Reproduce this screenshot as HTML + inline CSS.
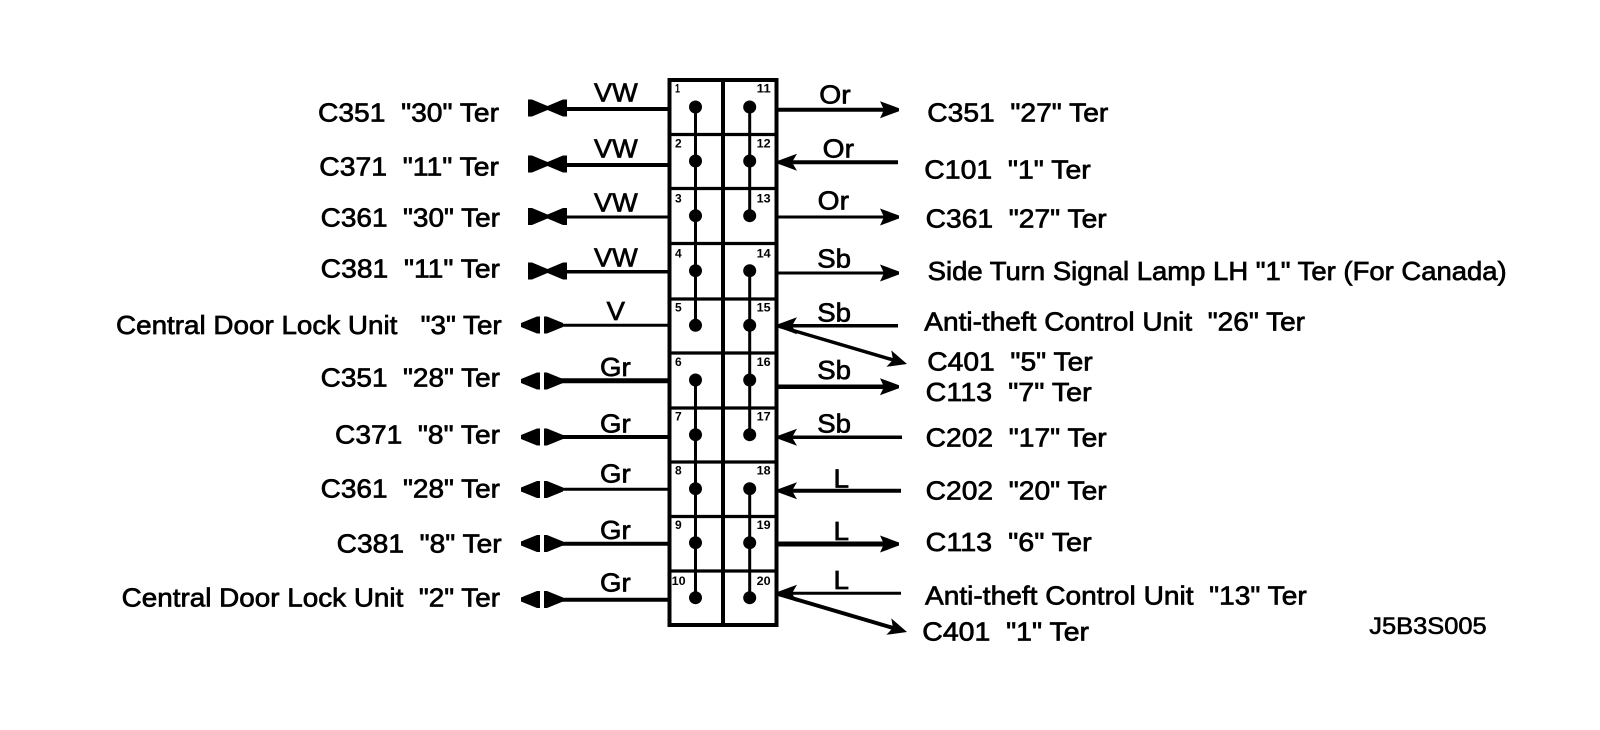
<!DOCTYPE html>
<html><head><meta charset="utf-8"><title>J5B3S005</title>
<style>
html,body{margin:0;padding:0;background:#fff;width:1600px;height:730px;overflow:hidden}
svg{display:block}
text{font-family:"Liberation Sans",Arial,sans-serif;fill:#000}
.t{font-size:26px;stroke:#000;stroke-width:.7px}
.n{font-size:12px;font-weight:bold}
.w{stroke:#000;fill:none}
</style></head><body>
<svg width="1600" height="730" viewBox="0 0 1600 730" xmlns="http://www.w3.org/2000/svg">
<defs>
<g id="da"><polygon points="528,-8.5 532,-8.5 547.5,-2 547.5,2 532,8.5 528,8.5"/><polygon points="547.5,-2 563,-8.5 567,-8.5 567,8.5 563,8.5 547.5,2"/></g>
<g id="db"><polygon points="521,-2 537,-8.5 540,-8.5 540,8.5 537,8.5 521,2"/><polygon points="544,-8.5 547,-8.5 563,-2 563,2 547,8.5 544,8.5"/></g>
<polygon id="o" points="899,-1.5 899,1.5 880,8.5 884,0 880,-8.5"/>
<polygon id="i" points="778,-1.5 778,1.5 797,8.5 792,0 797,-8.5"/>
<polygon id="dg" points="907,364 891.3,350.4 893,359.8 886.4,366.8"/>
</defs>

<!-- connector box -->
<g class="w">
<rect x="669.5" y="80" width="107" height="545" stroke-width="4"/>
<path d="M723 80V625" stroke-width="4"/>
<path d="M669 134.5H777M669 188.5H777M669 243.5H777M669 299H777M669 353H777M669 408H777M669 462H777M669 516.5H777M669 571H777" stroke-width="3.2"/>
<path d="M695.5 107V325M695.5 380V598M749.7 107V216M749.7 271V435M749.7 489V598" stroke-width="3"/>
</g>
<g>
<circle cx="695.5" cy="107" r="6.5"/><circle cx="695.5" cy="161" r="6.5"/><circle cx="695.5" cy="215.7" r="6.5"/><circle cx="695.5" cy="270.7" r="6.5"/><circle cx="695.5" cy="325.3" r="6.5"/><circle cx="695.5" cy="380" r="6.5"/><circle cx="695.5" cy="434.7" r="6.5"/><circle cx="695.5" cy="488.7" r="6.5"/><circle cx="695.5" cy="542.7" r="6.5"/><circle cx="695.5" cy="597.7" r="6.5"/>
<circle cx="749.7" cy="107" r="6.5"/><circle cx="749.7" cy="161" r="6.5"/><circle cx="749.7" cy="215.7" r="6.5"/><circle cx="749.7" cy="270.7" r="6.5"/><circle cx="749.7" cy="325.3" r="6.5"/><circle cx="749.7" cy="380" r="6.5"/><circle cx="749.7" cy="434.7" r="6.5"/><circle cx="749.7" cy="488.7" r="6.5"/><circle cx="749.7" cy="542.7" r="6.5"/><circle cx="749.7" cy="597.7" r="6.5"/>
</g>

<!-- left wires -->
<g class="w">
<path d="M560 109H668" stroke-width="4"/>
<path d="M560 165H668" stroke-width="4"/>
<path d="M560 217H668" stroke-width="3"/>
<path d="M560 271.7H668" stroke-width="3.5"/>
<path d="M555 325.3H668" stroke-width="3"/>
<path d="M555 380.7H668" stroke-width="5"/>
<path d="M555 437H668" stroke-width="4"/>
<path d="M555 489.3H668" stroke-width="3"/>
<path d="M555 543.7H668" stroke-width="4"/>
<path d="M555 599.7H668" stroke-width="4"/>
</g>
<use href="#da" transform="translate(0,108)"/>
<use href="#da" transform="translate(0,164)"/>
<use href="#da" transform="translate(0,216.5)"/>
<use href="#da" transform="translate(0,271)"/>
<use href="#db" transform="translate(0,325)"/>
<use href="#db" transform="translate(0,381)"/>
<use href="#db" transform="translate(0,437)"/>
<use href="#db" transform="translate(0,489.5)"/>
<use href="#db" transform="translate(0,543.5)"/>
<use href="#db" transform="translate(0,599.5)"/>

<!-- right wires -->
<g class="w">
<path d="M778 109.7H885" stroke-width="4"/>
<path d="M785 162.3H898" stroke-width="4"/>
<path d="M778 217H885" stroke-width="3"/>
<path d="M778 273H885" stroke-width="3"/>
<path d="M785 325.7H898" stroke-width="3.5"/>
<path d="M778 386.7H885" stroke-width="4.5"/>
<path d="M785 437.3H902" stroke-width="3.5"/>
<path d="M785 490.7H901" stroke-width="4"/>
<path d="M778 544H885" stroke-width="5"/>
<path d="M785 593.3H901" stroke-width="3"/>
<path d="M778 326L895 360.5" stroke-width="3.5"/>
<path d="M778 594L895 628.5" stroke-width="4"/>
</g>
<use href="#o" transform="translate(0,109.7)"/>
<use href="#i" transform="translate(0,162.3)"/>
<use href="#o" transform="translate(0,217)"/>
<use href="#o" transform="translate(0,273)"/>
<use href="#i" transform="translate(0,325.7)"/>
<use href="#o" transform="translate(0,386.7)"/>
<use href="#i" transform="translate(0,437.3)"/>
<use href="#i" transform="translate(0,490.7)"/>
<use href="#o" transform="translate(0,544)"/>
<use href="#i" transform="translate(0,593.3)"/>
<use href="#dg"/>
<use href="#dg" transform="translate(0,268)"/>

<!-- pin numbers -->
<g class="n">
<text x="675" y="92.7" textLength="5" lengthAdjust="spacingAndGlyphs">1</text>
<text x="675" y="147.3">2</text>
<text x="675" y="202.7">3</text>
<text x="675" y="257.3">4</text>
<text x="675" y="311.7">5</text>
<text x="675" y="366">6</text>
<text x="675" y="420.7">7</text>
<text x="675" y="474.3">8</text>
<text x="675" y="529">9</text>
<text x="671.7" y="585" textLength="14" lengthAdjust="spacingAndGlyphs">10</text>
<text x="756.7" y="92.7" textLength="14" lengthAdjust="spacingAndGlyphs">11</text>
<text x="756.7" y="147.3" textLength="14" lengthAdjust="spacingAndGlyphs">12</text>
<text x="756.7" y="202.7" textLength="14" lengthAdjust="spacingAndGlyphs">13</text>
<text x="756.7" y="257.3" textLength="14" lengthAdjust="spacingAndGlyphs">14</text>
<text x="756.7" y="311.7" textLength="14" lengthAdjust="spacingAndGlyphs">15</text>
<text x="756.7" y="366" textLength="14" lengthAdjust="spacingAndGlyphs">16</text>
<text x="756.7" y="420.7" textLength="14" lengthAdjust="spacingAndGlyphs">17</text>
<text x="756.7" y="474.3" textLength="14" lengthAdjust="spacingAndGlyphs">18</text>
<text x="756.7" y="529" textLength="14" lengthAdjust="spacingAndGlyphs">19</text>
<text x="756.7" y="585" textLength="14" lengthAdjust="spacingAndGlyphs">20</text>
</g>

<!-- wire colour labels -->
<g class="t">
<text x="594" y="101.7" textLength="43.7" lengthAdjust="spacingAndGlyphs">VW</text>
<text x="594" y="157.3" textLength="43.7" lengthAdjust="spacingAndGlyphs">VW</text>
<text x="594" y="211.7" textLength="43.7" lengthAdjust="spacingAndGlyphs">VW</text>
<text x="594" y="266.7" textLength="43.7" lengthAdjust="spacingAndGlyphs">VW</text>
<text x="606.7" y="320" textLength="18.3" lengthAdjust="spacingAndGlyphs">V</text>
<text x="600" y="376" textLength="30.7" lengthAdjust="spacingAndGlyphs">Gr</text>
<text x="600" y="432.3" textLength="30.7" lengthAdjust="spacingAndGlyphs">Gr</text>
<text x="600" y="482.7" textLength="30.7" lengthAdjust="spacingAndGlyphs">Gr</text>
<text x="600" y="539" textLength="30.7" lengthAdjust="spacingAndGlyphs">Gr</text>
<text x="600" y="591.5" textLength="30.7" lengthAdjust="spacingAndGlyphs">Gr</text>
<text x="819.3" y="103.3" textLength="31.4" lengthAdjust="spacingAndGlyphs">Or</text>
<text x="822.7" y="157.3" textLength="31.3" lengthAdjust="spacingAndGlyphs">Or</text>
<text x="817.7" y="209.3" textLength="31.3" lengthAdjust="spacingAndGlyphs">Or</text>
<text x="817.3" y="267.7" textLength="33.7" lengthAdjust="spacingAndGlyphs">Sb</text>
<text x="817.3" y="321.3" textLength="33.7" lengthAdjust="spacingAndGlyphs">Sb</text>
<text x="817.3" y="378.8" textLength="33.7" lengthAdjust="spacingAndGlyphs">Sb</text>
<text x="817.3" y="432.3" textLength="33.7" lengthAdjust="spacingAndGlyphs">Sb</text>
<text x="833.5" y="487.7" textLength="15.5" lengthAdjust="spacingAndGlyphs">L</text>
<text x="833.5" y="540" textLength="15.5" lengthAdjust="spacingAndGlyphs">L</text>
<text x="833.5" y="589" textLength="15.5" lengthAdjust="spacingAndGlyphs">L</text>
</g>

<!-- left terminal labels -->
<g class="t" transform="translate(0,-1)">
<text x="318" y="122.3" textLength="181" lengthAdjust="spacingAndGlyphs" xml:space="preserve">C351  "30" Ter</text>
<text x="319.3" y="176.3" textLength="179.7" lengthAdjust="spacingAndGlyphs" xml:space="preserve">C371  "11" Ter</text>
<text x="320.7" y="227.3" textLength="179.3" lengthAdjust="spacingAndGlyphs" xml:space="preserve">C361  "30" Ter</text>
<text x="320.7" y="278.7" textLength="179.3" lengthAdjust="spacingAndGlyphs" xml:space="preserve">C381  "11" Ter</text>
<text x="116" y="335" textLength="385.7" lengthAdjust="spacingAndGlyphs" xml:space="preserve">Central Door Lock Unit   "3" Ter</text>
<text x="320.7" y="387.7" textLength="179.3" lengthAdjust="spacingAndGlyphs" xml:space="preserve">C351  "28" Ter</text>
<text x="335" y="444.3" textLength="165" lengthAdjust="spacingAndGlyphs" xml:space="preserve">C371  "8" Ter</text>
<text x="320.7" y="498.3" textLength="179.3" lengthAdjust="spacingAndGlyphs" xml:space="preserve">C361  "28" Ter</text>
<text x="336.7" y="553.3" textLength="165" lengthAdjust="spacingAndGlyphs" xml:space="preserve">C381  "8" Ter</text>
<text x="121.7" y="607.3" textLength="378.3" lengthAdjust="spacingAndGlyphs" xml:space="preserve">Central Door Lock Unit  "2" Ter</text>
</g>

<!-- right terminal labels -->
<g class="t" transform="translate(0,-1)">
<text x="927.3" y="122.7" textLength="181" lengthAdjust="spacingAndGlyphs" xml:space="preserve">C351  "27" Ter</text>
<text x="924.3" y="179.3" textLength="166.4" lengthAdjust="spacingAndGlyphs" xml:space="preserve">C101  "1" Ter</text>
<text x="925.7" y="228.3" textLength="181" lengthAdjust="spacingAndGlyphs" xml:space="preserve">C361  "27" Ter</text>
<text x="927.7" y="281" textLength="579" lengthAdjust="spacingAndGlyphs">Side Turn Signal Lamp LH "1" Ter (For Canada)</text>
<text x="924.3" y="331.7" textLength="380.7" lengthAdjust="spacingAndGlyphs" xml:space="preserve">Anti-theft Control Unit  "26" Ter</text>
<text x="927.3" y="371.7" textLength="165.4" lengthAdjust="spacingAndGlyphs" xml:space="preserve">C401  "5" Ter</text>
<text x="925.7" y="402" textLength="166" lengthAdjust="spacingAndGlyphs" xml:space="preserve">C113  "7" Ter</text>
<text x="925.7" y="447.7" textLength="181" lengthAdjust="spacingAndGlyphs" xml:space="preserve">C202  "17" Ter</text>
<text x="925.7" y="500.7" textLength="181" lengthAdjust="spacingAndGlyphs" xml:space="preserve">C202  "20" Ter</text>
<text x="925.7" y="552" textLength="166" lengthAdjust="spacingAndGlyphs" xml:space="preserve">C113  "6" Ter</text>
<text x="925" y="605.3" textLength="381.7" lengthAdjust="spacingAndGlyphs" xml:space="preserve">Anti-theft Control Unit  "13" Ter</text>
<text x="922.3" y="641.7" textLength="166.7" lengthAdjust="spacingAndGlyphs" xml:space="preserve">C401  "1" Ter</text>
</g>
<text x="1369.3" y="634" font-size="24" stroke="#000" stroke-width=".6" textLength="117.4" lengthAdjust="spacingAndGlyphs">J5B3S005</text>
</svg>
</body></html>
